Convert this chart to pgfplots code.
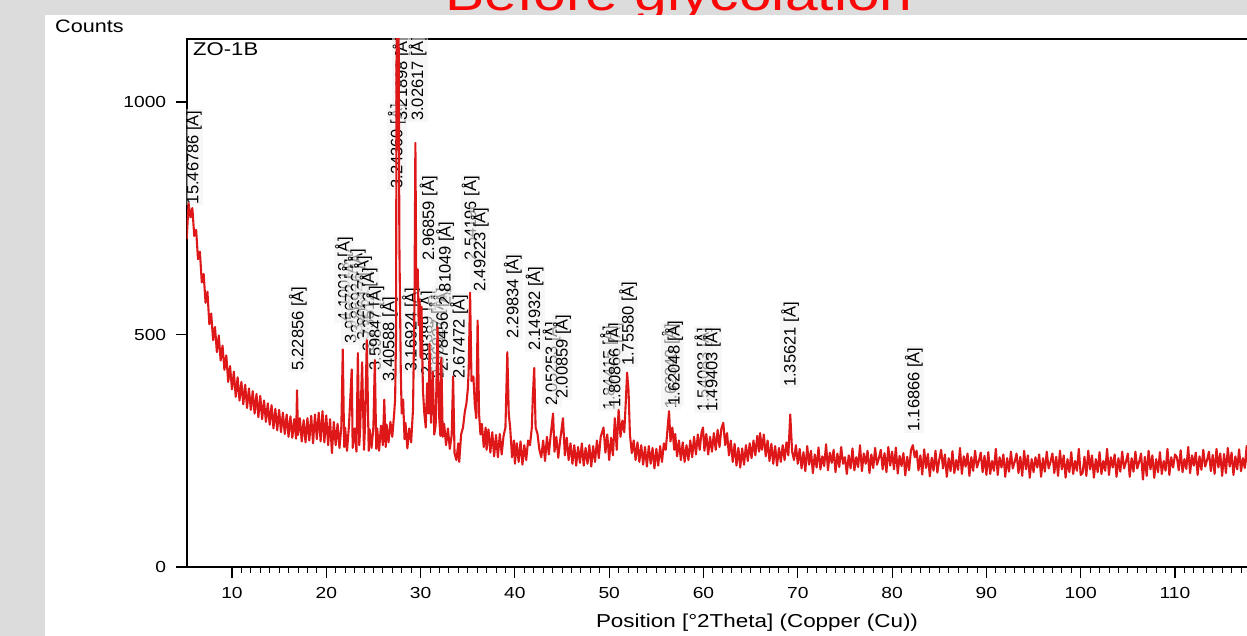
\documentclass[border=0pt]{standalone}
\usepackage{pgfplots}
\pgfplotsset{compat=1.18}
\usepackage{pgfplotstable}
\usepackage{fontspec}
\setmainfont{Liberation Sans}
\newfontfamily\wide[FakeStretch=1.2]{Liberation Sans}
\newfontfamily\lab{Liberation Sans}
\definecolor{bggray}{RGB}{220,220,220}
\definecolor{xrdred}{RGB}{222,24,24}
\definecolor{titlered}{RGB}{250,8,8}
\definecolor{lblbg}{RGB}{242,242,242}

\pgfplotstableread{
x y
5.2 705
5.4 782
5.6 752
5.8 772
6.0 712
6.2 725
6.4 662
6.6 678
6.8 612
7.0 630
7.2 568
7.4 592
7.6 522
7.8 545
8.0 488
8.2 516
8.4 462
8.6 498
8.8 444
9.0 476
9.2 424
9.4 455
9.6 398
9.8 432
10.0 382
10.2 420
10.4 366
10.6 408
10.8 358
11.0 398
11.2 350
11.4 392
11.6 342
11.8 384
12.0 338
12.2 378
12.4 330
12.6 372
12.8 322
13.0 368
13.2 318
13.4 358
13.6 312
13.8 352
14.0 306
14.2 348
14.4 298
14.6 340
14.8 294
15.0 338
15.2 290
15.4 332
15.6 286
15.8 328
16.0 280
16.2 324
16.4 278
16.6 318
16.8 276
16.9 380
17.0 284
17.2 320
17.4 270
17.6 316
17.8 268
18.0 320
18.2 272
18.4 325
18.6 266
18.8 328
19.0 275
19.2 332
19.4 270
19.6 335
19.8 268
20.0 326
20.2 262
20.4 318
20.6 245
20.8 312
21.0 262
21.2 308
21.4 256
21.6 302
21.75 468
21.9 258
22.0 300
22.2 250
22.4 302
22.7 425
22.8 256
23.0 298
23.2 248
23.35 460
23.5 262
23.6 300
23.8 440
24.0 252
24.1 298
24.3 488
24.5 250
24.6 296
24.8 256
25.0 302
25.15 445
25.3 254
25.4 298
25.6 250
25.8 304
26.0 262
26.15 360
26.3 258
26.4 306
26.6 268
26.8 312
27.0 280
27.2 330
27.3 360
27.4 500
27.48 1400
27.55 900
27.65 1300
27.75 700
27.9 420
28.0 330
28.15 360
28.3 275
28.4 310
28.6 255
28.8 298
29.0 268
29.2 340
29.35 560
29.45 912
29.55 600
29.7 640
29.8 520
29.9 575
30.0 450
30.1 560
30.25 380
30.4 330
30.55 300
30.7 395
30.85 330
30.95 480
31.1 310
31.3 420
31.45 285
31.6 305
31.8 516
31.95 330
32.1 282
32.2 450
32.35 280
32.5 308
32.7 262
32.9 298
33.1 254
33.3 284
33.45 410
33.6 245
33.8 230
34.0 266
34.1 226
34.3 285
34.5 300
34.7 335
34.85 350
35.0 380
35.1 420
35.25 590
35.4 400
35.6 410
35.75 350
35.9 320
36.05 530
36.2 330
36.35 285
36.5 308
36.7 258
36.9 300
37.0 252
37.2 296
37.4 246
37.6 290
37.8 238
38.0 284
38.2 236
38.4 286
38.6 242
38.8 282
39.0 300
39.2 462
39.35 330
39.5 300
39.7 236
39.9 272
40.0 222
40.2 266
40.4 226
40.6 270
40.8 220
41.0 262
41.2 230
41.4 272
41.6 262
41.8 300
41.9 365
42.05 428
42.2 300
42.4 286
42.6 252
42.8 236
43.0 272
43.2 228
43.4 280
43.6 242
43.8 284
44.05 330
44.2 248
44.4 280
44.6 235
44.8 272
45.1 320
45.3 240
45.5 278
45.7 230
45.9 266
46.1 222
46.3 262
46.5 218
46.7 258
46.9 224
47.1 266
47.3 218
47.5 256
47.7 222
47.9 262
48.1 216
48.3 260
48.5 226
48.7 272
48.9 234
49.1 280
49.4 300
49.6 246
49.8 285
50.0 230
50.2 278
50.4 240
50.6 320
50.8 252
51.0 338
51.2 280
51.4 315
51.6 290
51.75 350
51.9 418
52.05 380
52.2 285
52.4 245
52.6 272
52.8 230
53.0 268
53.2 226
53.4 262
53.6 220
53.8 258
54.0 216
54.2 260
54.4 222
54.6 256
54.8 212
55.0 254
55.2 218
55.4 260
55.6 226
55.8 266
56.0 252
56.2 300
56.35 335
56.5 270
56.7 300
56.9 252
57.0 286
57.2 238
57.4 272
57.6 230
57.8 268
58.0 226
58.2 262
58.4 230
58.6 272
58.8 236
59.0 280
59.2 242
59.4 285
59.6 252
59.8 290
59.95 300
60.1 250
60.3 286
60.5 242
60.7 280
60.9 248
61.1 288
61.3 252
61.5 295
61.7 258
61.9 298
62.1 310
62.3 262
62.5 288
62.7 240
62.9 272
63.1 226
63.3 265
63.5 218
63.7 256
63.9 214
64.1 255
64.3 220
64.5 262
64.7 228
64.9 266
65.1 234
65.3 272
65.5 240
65.7 282
65.9 248
66.0 288
66.2 252
66.4 285
66.6 238
66.8 272
67.0 228
67.2 265
67.4 222
67.6 260
67.8 218
68.0 256
68.2 226
68.4 262
68.6 230
68.8 268
69.0 240
69.2 328
69.4 248
69.6 230
69.8 262
70.0 222
70.2 254
70.4 212
70.6 247
70.8 206
71.0 260
71.2 220
71.4 250
71.6 202
71.8 242
72.0 214
72.2 257
72.4 210
72.6 238
72.8 217
73.0 264
73.2 208
73.4 246
73.6 224
73.8 252
74.0 204
74.2 244
74.4 215
74.6 258
74.8 222
75.0 236
75.2 200
75.4 240
75.6 212
75.8 255
76.0 208
76.2 236
76.4 215
76.6 262
76.8 206
77.0 244
77.2 222
77.4 250
77.6 202
77.8 242
78.0 213
78.2 256
78.4 220
78.6 234
78.8 252
79.0 210
79.2 245
79.4 204
79.6 258
79.8 218
80.0 248
80.2 210
80.4 257
80.6 201
80.8 239
81.0 217
81.2 245
81.4 197
81.6 237
81.8 208
82.0 251
82.2 262
82.4 236
82.6 250
82.8 208
83.0 240
83.2 199
83.4 253
83.6 213
83.8 243
84.0 195
84.2 235
84.4 207
84.6 250
84.8 203
85.0 231
85.2 252
85.4 212
85.6 242
85.8 194
86.0 234
86.2 206
86.4 249
86.6 202
86.8 230
87.0 209
87.2 256
87.4 200
87.6 238
87.8 216
88.0 244
88.2 196
88.4 236
88.6 207
88.8 250
89.0 214
89.2 228
89.4 246
89.6 204
89.8 239
90.0 198
90.2 247
90.4 200
90.6 228
90.8 207
91.0 254
91.2 198
91.4 236
91.6 214
91.8 242
92.0 194
92.2 234
92.4 205
92.6 248
92.8 212
93.0 226
93.2 244
93.4 202
93.6 237
93.8 196
94.0 250
94.2 210
94.4 240
94.6 192
94.8 232
95.0 204
95.2 236
95.4 214
95.6 242
95.8 194
96.0 234
96.2 205
96.4 248
96.6 212
96.8 226
97.0 244
97.2 202
97.4 237
97.6 196
97.8 250
98.0 210
98.2 240
98.4 192
98.6 232
98.8 204
99.0 247
99.2 200
99.4 228
99.6 207
99.8 254
100.0 198
100.2 202
100.4 237
100.6 196
100.8 250
101.0 210
101.2 240
101.4 192
101.6 232
101.8 204
102.0 247
102.2 200
102.4 228
102.6 207
102.8 254
103.0 198
103.2 236
103.4 214
103.6 242
103.8 194
104.0 234
104.2 205
104.4 248
104.6 212
104.8 226
105.0 244
105.2 194
105.4 234
105.6 205
105.8 248
106.0 212
106.2 226
106.4 244
106.6 188
106.8 237
107.0 196
107.2 250
107.4 210
107.6 240
107.8 192
108.0 232
108.2 204
108.4 247
108.6 200
108.8 228
109.0 207
109.2 254
109.4 198
109.6 236
109.8 214
110.0 242
110.2 236
110.4 208
110.6 251
110.8 204
111.0 232
111.2 211
111.4 258
111.6 202
111.8 240
112.0 218
112.2 246
112.4 198
112.6 238
112.8 209
113.0 252
113.2 216
113.4 230
113.6 248
113.8 206
114.0 241
114.2 200
114.4 254
114.6 214
114.8 244
115.0 196
115.2 243
115.4 202
115.6 256
115.8 216
116.0 246
116.2 198
116.4 238
116.6 210
116.8 253
117.0 206
117.2 234
117.4 213
117.6 260
117.8 204
118.0 242
118.2 220
118.4 248
118.6 200
118.8 240
119.0 211
119.2 254
119.4 218
119.6 232
119.8 250
120.0 208
}\xrd

\newcommand\lbl[3]{\node[rotate=90,anchor=west,inner sep=1pt,text=black,fill=lblbg,fill opacity=0.6,text opacity=1,font=\lab\fontsize{16.5}{16.5}\selectfont] at (axis cs:#1,#2) {#3};}

\begin{document}
\begin{tikzpicture}[x=1pt,y=1pt]
\useasboundingbox (0,0) rectangle (1247,636);
\clip (0,0) rectangle (1247,636);
\fill[bggray] (0,0) rectangle (1247,636);
\node[anchor=base west,inner sep=0,text=titlered,font=\wide\fontsize{49}{50}\selectfont] at (445,625) {Before glycolation};
\fill[white] (45,0) rectangle (1247,620.5);
\node[anchor=base west,inner sep=0,font=\wide\fontsize{18}{20}\selectfont] at (55,603) {Counts};
\node[anchor=base west,inner sep=0,font=\wide\fontsize{18.4}{20}\selectfont] at (193,580) {ZO-1B};
\node[anchor=base,inner sep=0,font=\wide\fontsize{18.7}{20}\selectfont] at (757,8) {Position [°2Theta] (Copper (Cu))};
\begin{axis}[
  at={(186.7pt,69pt)}, anchor=south west, scale only axis,
  width=1082.6pt, height=528pt,
  xmin=5.2, xmax=120, ymin=0, ymax=1135.5,
  axis line style={line width=1.8pt},
  xtick={10,20,...,120}, minor x tick num=9,
  xticklabels={10,20,30,40,50,60,70,80,90,100,110,{}},
  ytick={0,500,1000}, yticklabels={0,500,1000},
  xtick pos=left, ytick pos=left,
  tick align=outside,
  major tick length=11pt, minor tick length=6pt,
  tick style={black, line width=1.1pt},
  minor tick style={line width=0.9pt},
  /pgf/number format/assume math mode=true,
  ticklabel style={font=\wide\fontsize{16}{16}\selectfont, text=black},
  xticklabel style={yshift=-6pt},
  yticklabel style={xshift=-6pt},
]
\lbl{5.86}{778}{15.46786 [Å]}
\lbl{17.0}{419}{5.22856 [Å]}
\lbl{21.9}{525}{4.10013 [Å]}
\lbl{22.6}{478}{3.95672 [Å]}
\lbl{23.25}{500}{3.86926 [Å]}
\lbl{23.9}{485}{3.80617 [Å]}
\lbl{24.5}{460}{3.73512 [Å]}
\lbl{25.2}{420}{3.59847 [Å]}
\lbl{26.65}{396}{3.40588 [Å]}
\lbl{27.5}{811}{3.24360 [Å]}
\lbl{28.0}{957}{3.21898 [Å]}
\lbl{29.7}{957}{3.02617 [Å]}
\lbl{29.0}{417}{3.16924 [Å]}
\lbl{30.85}{656}{2.96859 [Å]}
\lbl{30.7}{409}{2.89389 [Å]}
\lbl{31.85}{402}{2.86827 [Å]}
\lbl{32.3}{417}{2.78456 [Å]}
\lbl{32.6}{559}{2.81049 [Å]}
\lbl{34.1}{402}{2.67472 [Å]}
\lbl{35.3}{656}{2.54196 [Å]}
\lbl{36.3}{589}{2.49223 [Å]}
\lbl{39.8}{488}{2.29834 [Å]}
\lbl{42.1}{462}{2.14932 [Å]}
\lbl{43.9}{344}{2.05253 [Å]}
\lbl{45.0}{359}{2.00859 [Å]}
\lbl{50.0}{335}{1.84415 [Å]}
\lbl{50.6}{340}{1.80866 [Å]}
\lbl{52.0}{430}{1.75580 [Å]}
\lbl{56.55}{338}{1.62340 [Å]}
\lbl{56.9}{345}{1.62048 [Å]}
\lbl{60.0}{331}{1.54083 [Å]}
\lbl{60.9}{331}{1.49403 [Å]}
\lbl{69.2}{385}{1.35621 [Å]}
\lbl{82.3}{288}{1.16866 [Å]}
\addplot[xrdred, line width=2.1pt, line join=round] table[x=x,y=y] {\xrd};
\end{axis}
\end{tikzpicture}
\end{document}
